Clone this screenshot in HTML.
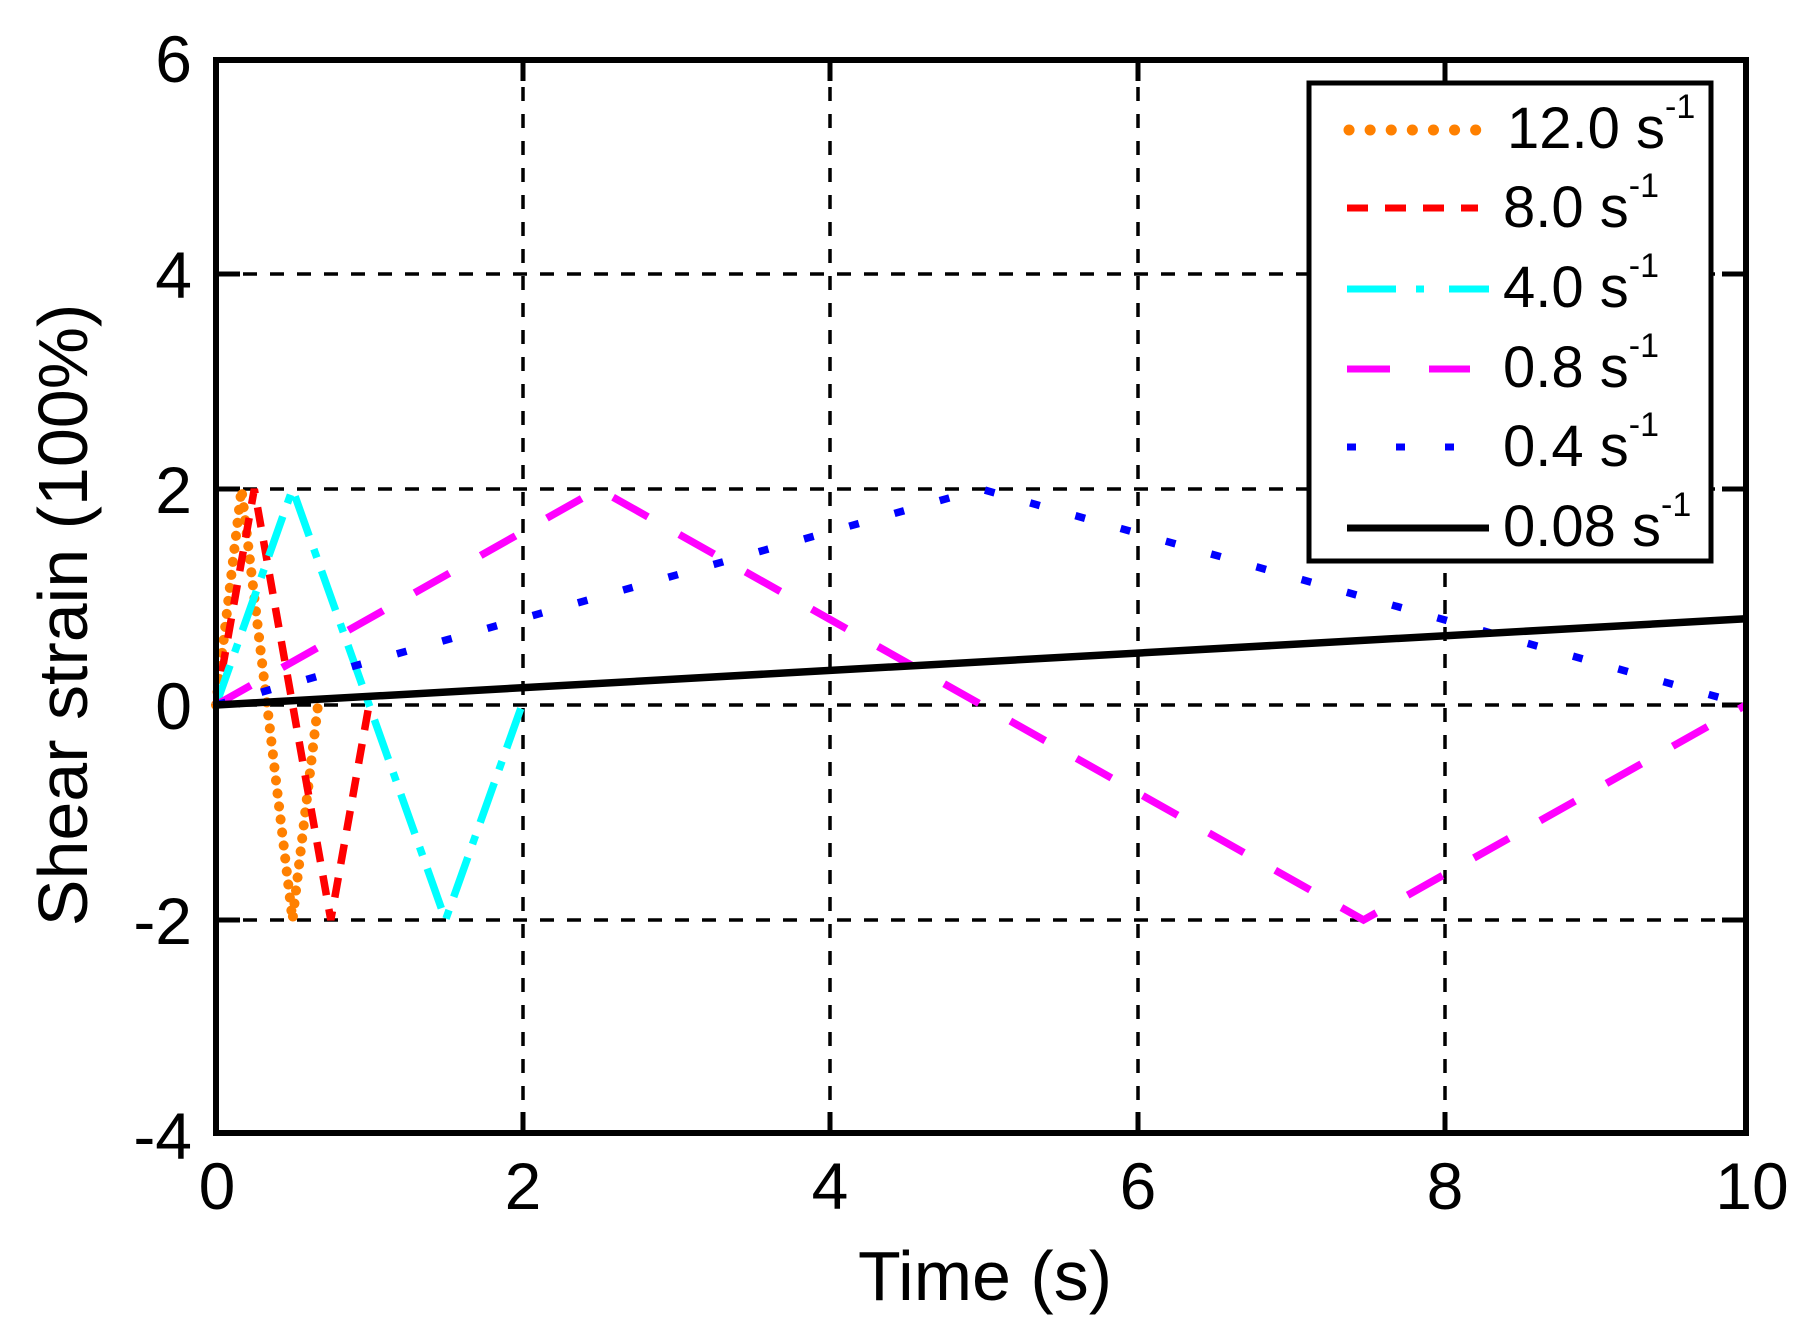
<!DOCTYPE html>
<html><head><meta charset="utf-8"><style>
html,body{margin:0;padding:0;background:#fff;}
svg{display:block;}
text{font-family:"Liberation Sans",Arial,sans-serif;fill:#000;}
</style></head><body>
<svg width="1812" height="1339" viewBox="0 0 1812 1339" xmlns="http://www.w3.org/2000/svg">
<rect width="1812" height="1339" fill="#fff"/>
<g stroke="#000" stroke-width="3.5" stroke-dasharray="14,13" fill="none">
<line x1="523" y1="60" x2="523" y2="1135"/>
<line x1="830" y1="60" x2="830" y2="1135"/>
<line x1="1138" y1="60" x2="1138" y2="1135"/>
<line x1="1445" y1="60" x2="1445" y2="1135"/>
<line x1="216" y1="920" x2="1746" y2="920"/>
<line x1="216" y1="705" x2="1746" y2="705"/>
<line x1="216" y1="489" x2="1746" y2="489"/>
<line x1="216" y1="274" x2="1746" y2="274"/>
</g>
<g stroke="#000" stroke-width="5">
<line x1="523" y1="1133" x2="523" y2="1112"/><line x1="830" y1="1133" x2="830" y2="1112"/><line x1="1138" y1="1133" x2="1138" y2="1112"/><line x1="1445" y1="1133" x2="1445" y2="1112"/>
<line x1="523" y1="60" x2="523" y2="81"/><line x1="830" y1="60" x2="830" y2="81"/><line x1="1138" y1="60" x2="1138" y2="81"/><line x1="1445" y1="60" x2="1445" y2="81"/>
<line x1="216" y1="920" x2="240" y2="920"/><line x1="216" y1="705" x2="240" y2="705"/><line x1="216" y1="489" x2="240" y2="489"/><line x1="216" y1="274" x2="240" y2="274"/>
<line x1="1746" y1="920" x2="1722" y2="920"/><line x1="1746" y1="705" x2="1722" y2="705"/><line x1="1746" y1="489" x2="1722" y2="489"/><line x1="1746" y1="274" x2="1722" y2="274"/>
</g>
<g fill="none" stroke-width="7.5">
<polyline stroke="#ff8000" stroke-dasharray="0.1,13" stroke-linecap="round" stroke-width="10" points="216,705 241.5,489 292.5,920 318,705"/>
<polyline stroke="#ff0000" stroke-dasharray="20,14" points="216,705 254.3,489 330.8,920 369,705"/>
<polyline stroke="#00ffff" stroke-dasharray="42,14,9,14" points="216,705 292.5,489 445.5,920 522,705"/>
<polyline stroke="#ff00ff" stroke-dasharray="40,36" points="216,705 598.5,489 1363.5,920 1746,705"/>
<polyline stroke="#0000ff" stroke-dasharray="10,37" points="216,705 981,489 1746,705"/>
<polyline stroke="#000" points="216,705 1746,618.8"/>
</g>
<rect x="216" y="60" width="1530" height="1073" fill="none" stroke="#000" stroke-width="6"/>
<rect x="1309" y="83" width="402" height="478" fill="#fff" stroke="#000" stroke-width="5"/>
<g fill="none" stroke-width="7">
<line x1="1349" y1="130" x2="1488" y2="130" stroke="#ff8000" stroke-dasharray="0.1,21" stroke-linecap="round" stroke-width="11"/>
<line x1="1347" y1="208" x2="1478" y2="208" stroke="#ff0000" stroke-dasharray="21,17"/>
<line x1="1347" y1="289" x2="1489" y2="289" stroke="#00ffff" stroke-dasharray="49,20,8,25"/>
<line x1="1347" y1="369" x2="1470" y2="369" stroke="#ff00ff" stroke-dasharray="43,39"/>
<line x1="1347" y1="447" x2="1457" y2="447" stroke="#0000ff" stroke-dasharray="9,40"/>
<line x1="1347" y1="528" x2="1489" y2="528" stroke="#000"/>
</g>
<g font-size="58">
<text x="1507" y="148">12.0 s<tspan font-size="34" dy="-30">-1</tspan></text>
<text x="1503" y="227">8.0 s<tspan font-size="34" dy="-30">-1</tspan></text>
<text x="1503" y="307">4.0 s<tspan font-size="34" dy="-30">-1</tspan></text>
<text x="1503" y="387">0.8 s<tspan font-size="34" dy="-30">-1</tspan></text>
<text x="1503" y="466">0.4 s<tspan font-size="34" dy="-30">-1</tspan></text>
<text x="1503" y="546">0.08 s<tspan font-size="34" dy="-30">-1</tspan></text>
</g>
<g font-size="66" text-anchor="middle">
<text x="217" y="1209">0</text><text x="523" y="1209">2</text><text x="830" y="1209">4</text><text x="1138" y="1209">6</text><text x="1445" y="1209">8</text><text x="1752" y="1209">10</text>
</g>
<g font-size="66" text-anchor="end">
<text x="192" y="1159">-4</text><text x="192" y="944">-2</text><text x="192" y="729">0</text><text x="192" y="513">2</text><text x="192" y="298">4</text><text x="192" y="82">6</text>
</g>
<text x="985" y="1300" font-size="70" text-anchor="middle">Time (s)</text>
<text transform="translate(87,615) rotate(-90)" font-size="70" text-anchor="middle">Shear strain (100%)</text>
</svg>
</body></html>
